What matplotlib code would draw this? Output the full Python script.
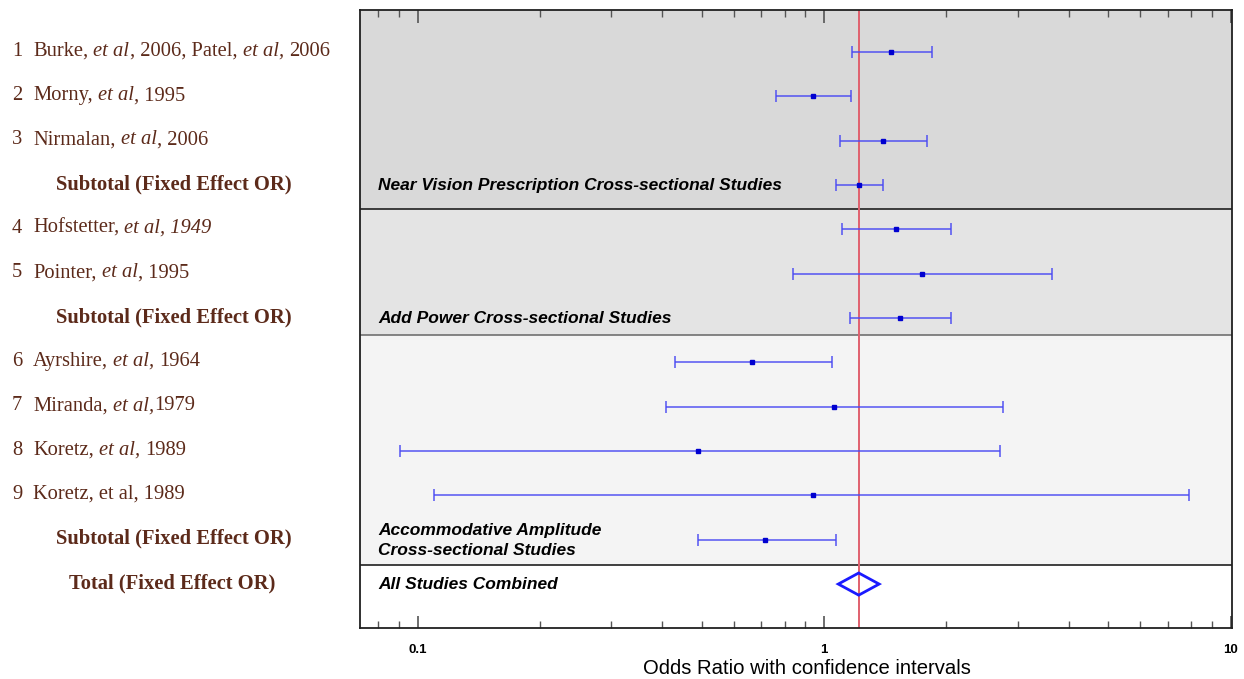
import matplotlib
matplotlib.use("Agg")
import matplotlib.pyplot as plt
import matplotlib.transforms as mtransforms
from matplotlib.patches import Polygon
from matplotlib.ticker import FixedLocator, NullFormatter, FixedFormatter

# ---------------- data ----------------
study_numbers = ["1", "2", "3", "4", "5", "6", "7", "8", "9"]
study_labels = [
    "Burke, _et al_, 2006, Patel, _et al,_ 2006",
    "Morny, _et al_, 1995",
    "Nirmalan, _et al_, 2006",
    "Hofstetter, _et al, 1949_",
    "Pointer, _et al_, 1995",
    "Ayrshire, _et al,_ 1964",
    "Miranda, _et al,_1979",
    "Koretz, _et al,_ 1989",
    "Koretz, et al, 1989",
]
study_rows = [0, 1, 2, 4, 5, 7, 8, 9, 10]
study_or = [1.459, 0.940, 1.397, 1.506, 1.745, 0.665, 1.058, 0.491, 0.940]
study_lo = [1.170, 0.760, 1.097, 1.109, 0.839, 0.429, 0.409, 0.0904, 0.110]
study_hi = [1.841, 1.167, 1.792, 2.050, 3.634, 1.048, 2.761, 2.710, 7.92]

subtotal_label = "Subtotal (Fixed Effect OR)"
subtotal_rows = [3, 6, 11]
subtotal_or = [1.219, 1.536, 0.716]
subtotal_lo = [1.069, 1.159, 0.491]
subtotal_hi = [1.397, 2.050, 1.069]

total_label = "Total (Fixed Effect OR)"
total_row = 12
total_or = 1.217
total_lo = 1.084
total_hi = 1.366

group_names = [
    "Near Vision Prescription Cross-sectional Studies",
    "Add Power Cross-sectional Studies",
    "Accommodative Amplitude\nCross-sectional Studies",
    "All Studies Combined",
]
group_label_rows = [3, 6, 11, 12]

tick_values = [0.1, 1, 10]
tick_labels = ["0.1", "1", "10"]
xlabel = "Odds Ratio with confidence intervals"

# ---------------- layout ----------------
W, H = 1244, 679
fig = plt.figure(figsize=(W / 100, H / 100), dpi=100)
ax_l, ax_r, ax_t, ax_b = 359.5, 1232, 10, 627.5
ax = fig.add_axes([ax_l / W, 1 - ax_b / H, (ax_r - ax_l) / W, (ax_b - ax_t) / H])
ax.set_xscale("log")
ax.set_xlim(0.072, 10.08)
ax.set_ylim(12.98, -0.95)

band_edges = [-0.95, 3.55, 6.38, 11.57, 12.98]
band_colors = ["#d9d9d9", "#e4e4e4", "#f4f4f4", "#ffffff"]
for i, c in enumerate(band_colors):
    ax.axhspan(band_edges[i], band_edges[i + 1], color=c, zorder=0, lw=0)
sep_colors = ["#202020", "#707070", "#202020"]
for e, c in zip(band_edges[1:-1], sep_colors):
    ax.axhline(e, color=c, lw=1.2, zorder=1)

# reference line
ax.axvline(total_or, color="#e0606e", lw=1.4, zorder=2)

bar_color = "#4a4af2"
pt_color = "#0000d0"
all_rows = study_rows + subtotal_rows
all_or = study_or + subtotal_or
all_lo = study_lo + subtotal_lo
all_hi = study_hi + subtotal_hi
for r, o, lo, hi in zip(all_rows, all_or, all_lo, all_hi):
    ax.errorbar([o], [r], xerr=[[o - lo], [hi - o]], fmt="none",
                ecolor=bar_color, elinewidth=1.3, capsize=4.0, capthick=1.3,
                alpha=0.8, zorder=3)
ax.plot(all_or, all_rows, ls="none", marker="s", ms=2.2, color=pt_color, zorder=4)

dh = 0.25
diamond = Polygon([[total_lo, total_row], [total_or, total_row - dh],
                   [total_hi, total_row], [total_or, total_row + dh]],
                  closed=True, fill=False, edgecolor="#1a1aff", lw=2.0, zorder=4)
ax.add_patch(diamond)

# group names inside the plot
gt = mtransforms.blended_transform_factory(ax.transAxes, ax.transData)
for name, r in zip(group_names, group_label_rows):
    ax.text((378 - ax_l) / (ax_r - ax_l), r + 0.02, name, transform=gt,
            ha="left", va="center", fontsize=12.5, fontweight="bold", fontstyle="italic",
            family="Liberation Sans", color="black", linespacing=1.38, zorder=5)

# axes styling
for s in ax.spines.values():
    s.set_color("#202020")
    s.set_linewidth(1.3)
ax.set_yticks([])
ax.xaxis.set_major_locator(FixedLocator(tick_values))
ax.xaxis.set_major_formatter(FixedFormatter(tick_labels))
minor = [0.08, 0.09] + [k / 10 for k in range(2, 10)] + list(range(2, 10))
ax.xaxis.set_minor_locator(FixedLocator(minor))
ax.xaxis.set_minor_formatter(NullFormatter())
ax.tick_params(axis="x", which="both", direction="in", top=True, bottom=True, color="#555555")
ax.tick_params(axis="x", which="major", length=9, width=1.2, pad=12)
ax.tick_params(axis="x", which="minor", length=5, width=1.0)
for lbl in ax.get_xticklabels():
    lbl.set_fontweight("bold")
    lbl.set_fontsize(9.5)
    lbl.set_family("Liberation Sans")
ax.set_xlabel(xlabel, fontsize=14.6, family="Liberation Sans")
ax.xaxis.set_label_coords((807 - ax_l) / (ax_r - ax_l), -0.0505)
ax.xaxis.label.set_va("top")

# left labels
brown = "#5c2a1a"
fs = 14.8
bt = mtransforms.blended_transform_factory(fig.transFigure, ax.transData)
space_pt = 0.25 * fs
dy = -0.02


def draw_label(x_px, row, text):
    parts = [p for p in text.split("_")]
    prev = None
    prev_trailing = False
    for k, p in enumerate(parts):
        if p == "":
            continue
        italic = (k % 2 == 1)
        gap = p.startswith(" ") or prev_trailing
        s = p.strip()
        prev_trailing = p.endswith(" ")
        kw = dict(fontsize=fs, family="Liberation Serif", color=brown,
                  fontstyle="italic" if italic else "normal")
        if prev is None:
            prev = fig.text(x_px / W, row + dy, s, transform=bt, ha="left", va="center", **kw)
        else:
            prev = ax.annotate(s, xy=(1, 0), xycoords=prev,
                               xytext=(space_pt if gap else 0.5, 0), textcoords="offset points",
                               ha="left", va="bottom", annotation_clip=False, **kw)


for num, lab, r in zip(study_numbers, study_labels, study_rows):
    fig.text(12 / W, r + dy, num, transform=bt, ha="left", va="center", fontsize=fs,
             family="Liberation Serif", color=brown)
    draw_label(33, r, lab)

for r in subtotal_rows:
    fig.text(174 / W, r + dy, subtotal_label, transform=bt, ha="center", va="center",
             fontsize=fs, family="Liberation Serif", fontweight="bold", color=brown)
fig.text(172 / W, total_row + dy, total_label, transform=bt, ha="center", va="center",
         fontsize=fs, family="Liberation Serif", fontweight="bold", color=brown)

fig.savefig("out.png", dpi=100)
